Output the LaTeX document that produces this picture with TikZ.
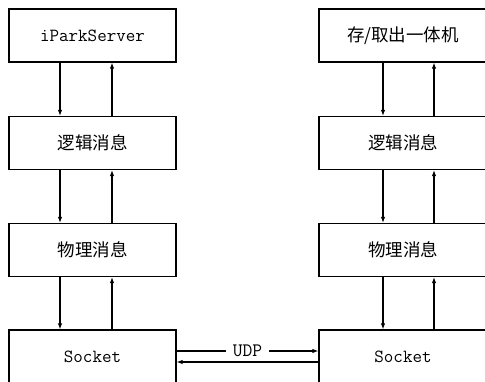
\documentclass[tikz,border=0pt]{standalone}
\usepackage{fontspec}
\newfontfamily\cjk{Noto Sans CJK SC}
\usetikzlibrary{arrows.meta}
\begin{document}
\begin{tikzpicture}[x=1pt,y=1pt,
  layer/.style={draw,line width=1.3pt,minimum width=167pt,minimum height=53pt,inner sep=0pt},
  arr/.style={line width=1.1pt,-{Latex[length=6pt,width=4.5pt]}},
  cn/.style={font=\cjk\fontsize{17.5}{20}\selectfont},
  lat/.style={font=\ttfamily\fontsize{18.5}{20}\selectfont}]
\fill[white] (0,0) rectangle (485,382);
\useasboundingbox (0,0) rectangle (485,382);
\clip (0,0) rectangle (485,382);

% left stack
\node[layer,lat] (L1) at (92.5,346.5) {iParkServer};
\node[layer,cn]  (L2) at (92.5,239) {逻辑消息};
\node[layer,cn]  (L3) at (92.5,132) {物理消息};
\node[layer,lat,minimum height=54pt] (L4) at (92.5,25) {Socket};

% right stack
\node[layer,cn,minimum width=168pt]  (R1) at (403,346.5) {存/取出一体机};
\node[layer,cn,minimum width=168pt]  (R2) at (403,239) {逻辑消息};
\node[layer,cn,minimum width=168pt]  (R3) at (403,132) {物理消息};
\node[layer,lat,minimum width=168pt,minimum height=54pt] (R4) at (403,25) {Socket};

% arrow columns
\coordinate (ldn) at (60,0);
\coordinate (lup) at (112,0);
\coordinate (rdn) at (383,0);
\coordinate (rup) at (434,0);

\foreach \a/\b in {L1/L2,L2/L3,L3/L4}{
  \draw[arr] (\a.south -| ldn) -- (\b.north -| ldn);
  \draw[arr] (\b.north -| lup) -- (\a.south -| lup);
}
\foreach \a/\b in {R1/R2,R2/R3,R3/R4}{
  \draw[arr] (\a.south -| rdn) -- (\b.north -| rdn);
  \draw[arr] (\b.north -| rup) -- (\a.south -| rup);
}

% UDP link between the sockets
\coordinate (udpa) at (0,31);
\coordinate (udpb) at (0,20);
\draw[arr] (L4.east |- udpa) -- node[fill=white,inner xsep=7pt,inner ysep=2pt,font=\ttfamily\fontsize{19}{20}\selectfont] (udp) {UDP} (R4.west |- udpa);
\draw[arr] (R4.west |- udpb) -- (L4.east |- udpb);
\end{tikzpicture}
\end{document}
